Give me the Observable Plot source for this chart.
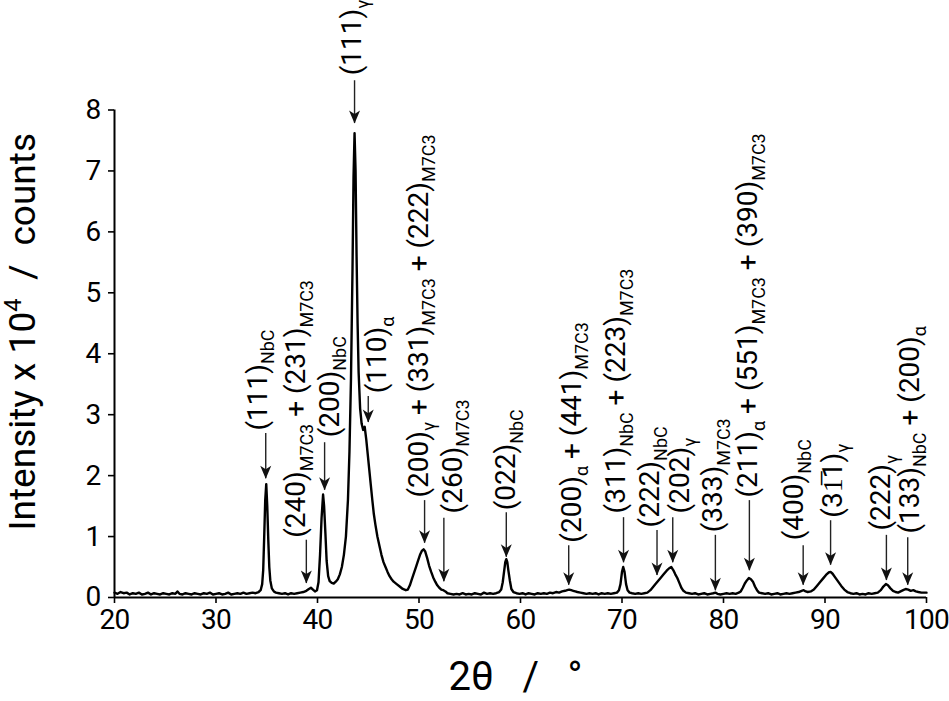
<!DOCTYPE html>
<html>
<head>
<meta charset="utf-8">
<script src="https://cdn.jsdelivr.net/npm/d3@7"></script>
<script src="https://cdn.jsdelivr.net/npm/@observablehq/plot@0.6"></script>
<style>
  html, body { margin: 0; padding: 0; background: white; }
  svg text { white-space: pre; }
  svg g[aria-label$="tick"] { stroke-width: 1.6px; }
  svg g[aria-label$="tick label"] { letter-spacing: -0.8px; }
</style>
</head>
<body>
<div id="chart"></div>
<script>
// ---- diffraction pattern (2θ in degrees, intensity in 10^4 counts) ----
const twoTheta = [
  20.0,20.3,20.6,20.9,21.2,21.5,21.8,22.1,22.4,22.7,23.0,23.3,23.6,23.9,24.2,24.5,24.8,25.1,25.4,25.7,
  26.0,26.2,26.4,26.7,27.0,27.3,27.6,27.9,28.2,28.5,28.8,29.1,29.4,29.7,30.0,30.3,30.6,30.9,31.2,31.5,
  31.8,32.1,32.4,32.7,33.0,33.3,33.6,33.9,34.2,
  34.4,34.55,34.65,34.75,34.85,34.95,35.05,35.15,35.25,35.35,35.5,35.7,35.9,
  36.2,36.5,36.8,37.1,37.4,37.7,38.0,38.3,38.6,38.9,39.15,39.35,39.55,39.75,39.95,
  40.1,40.25,40.4,40.55,40.65,40.78,40.9,41.05,41.2,41.4,41.6,41.8,42.0,42.2,42.4,42.6,42.8,
  43.0,43.15,43.3,43.45,43.55,43.65,43.75,43.85,43.95,44.05,44.2,44.35,44.5,44.65,44.8,44.95,
  45.1,45.25,45.4,45.55,45.7,45.9,46.1,46.3,46.5,46.7,46.9,47.1,47.3,47.5,47.8,48.1,48.4,48.7,48.9,
  49.1,49.3,49.5,49.7,49.9,50.1,50.3,50.45,50.6,50.8,51.0,51.2,51.4,51.6,51.8,52.0,52.2,52.4,52.6,52.8,
  53.1,53.4,53.7,54.0,54.3,54.6,54.9,55.2,55.5,55.8,56.1,56.4,56.7,57.0,57.3,57.6,57.9,
  58.1,58.25,58.4,58.5,58.6,58.7,58.8,58.95,59.1,59.3,59.6,59.9,
  60.2,60.5,60.8,61.1,61.4,61.7,62.0,62.3,62.6,62.9,63.2,63.5,63.8,64.1,64.4,64.6,64.8,65.0,65.2,65.4,
  65.6,65.9,66.2,66.5,66.8,67.1,67.4,67.7,68.0,68.3,68.6,68.9,69.2,69.5,
  69.7,69.85,70.0,70.12,70.25,70.4,70.55,70.75,71.0,71.3,71.6,71.9,72.2,72.5,72.8,
  73.1,73.3,73.55,73.8,74.1,74.4,74.65,74.85,75.05,75.25,75.45,75.65,75.85,76.05,76.3,76.6,76.9,
  77.2,77.5,77.8,78.1,78.4,78.7,79.0,79.2,79.4,79.7,80.0,80.3,80.6,80.9,81.2,81.5,81.7,81.9,
  82.1,82.3,82.5,82.7,82.9,83.1,83.3,83.5,83.8,84.1,84.4,84.7,85.0,85.3,85.6,85.9,86.2,86.5,86.8,
  87.1,87.4,87.7,87.9,88.1,88.3,88.6,88.9,89.2,89.5,89.8,90.1,90.35,90.55,90.75,91.0,91.3,91.6,91.9,
  92.2,92.5,92.8,93.1,93.4,93.7,94.0,94.3,94.6,94.9,95.2,95.5,95.75,96.0,96.2,96.45,96.7,96.95,
  97.2,97.45,97.7,97.95,98.2,98.45,98.7,98.95,99.2,99.5,99.8,100.0
];
const intensity = [
  0.08,0.06,0.09,0.07,0.08,0.05,0.07,0.06,0.08,0.05,0.06,0.08,0.05,0.07,0.06,0.05,0.07,0.06,0.05,0.07,
  0.06,0.10,0.06,0.05,0.07,0.06,0.05,0.07,0.06,0.05,0.07,0.06,0.08,0.05,0.06,0.07,0.05,0.06,0.08,0.05,
  0.06,0.07,0.06,0.08,0.06,0.07,0.08,0.07,0.09,
  0.12,0.22,0.45,1.00,1.60,1.86,1.50,0.95,0.50,0.28,0.15,0.10,0.08,
  0.07,0.06,0.07,0.05,0.07,0.06,0.07,0.08,0.09,0.11,0.14,0.16,0.13,0.10,0.12,
  0.25,0.70,1.30,1.69,1.50,1.05,0.60,0.35,0.27,0.24,0.23,0.26,0.30,0.38,0.50,0.70,1.00,
  1.60,2.40,3.60,5.40,6.90,7.62,7.00,5.60,4.50,3.70,3.10,2.85,2.75,2.80,2.60,2.35,
  2.10,1.85,1.60,1.37,1.20,1.00,0.85,0.70,0.58,0.50,0.42,0.35,0.30,0.26,0.22,0.18,0.14,0.12,0.13,
  0.20,0.30,0.40,0.50,0.60,0.70,0.77,0.79,0.76,0.65,0.52,0.42,0.33,0.26,0.20,0.16,0.13,0.12,0.10,0.07,
  0.06,0.05,0.06,0.05,0.07,0.05,0.06,0.05,0.07,0.06,0.05,0.08,0.06,0.07,0.06,0.07,0.09,
  0.13,0.25,0.45,0.58,0.63,0.58,0.45,0.28,0.14,0.09,0.07,0.06,
  0.07,0.05,0.07,0.06,0.05,0.07,0.06,0.07,0.06,0.08,0.07,0.09,0.08,0.10,0.11,0.12,0.13,0.12,0.11,0.10,
  0.09,0.08,0.07,0.06,0.07,0.06,0.07,0.05,0.07,0.06,0.07,0.06,0.07,0.08,
  0.12,0.22,0.42,0.50,0.42,0.22,0.12,0.08,0.07,0.06,0.07,0.06,0.07,0.08,0.12,
  0.18,0.22,0.27,0.32,0.38,0.44,0.48,0.50,0.45,0.38,0.32,0.24,0.16,0.11,0.08,0.07,0.06,
  0.07,0.05,0.06,0.07,0.05,0.06,0.07,0.08,0.06,0.05,0.06,0.07,0.06,0.07,0.06,0.08,0.10,0.16,
  0.23,0.28,0.32,0.30,0.26,0.18,0.12,0.08,0.07,0.06,0.07,0.05,0.06,0.07,0.05,0.06,0.07,0.06,0.07,
  0.08,0.09,0.11,0.12,0.10,0.09,0.10,0.13,0.19,0.25,0.31,0.37,0.41,0.42,0.39,0.33,0.26,0.19,0.13,
  0.09,0.07,0.06,0.07,0.05,0.06,0.05,0.07,0.06,0.07,0.08,0.12,0.18,0.22,0.20,0.15,0.11,0.09,
  0.08,0.10,0.12,0.14,0.13,0.11,0.12,0.10,0.09,0.08,0.08,0.08
];

// ---- peak annotations ----
const labels = [
  "(111)_{NbC}",
  "(240)_{M7C3} + (231)_{M7C3}",
  "(200)_{NbC}",
  "(111)_{γ}",
  "(110)_{α}",
  "(200)_{γ} + (331)_{M7C3} + (222)_{M7C3}",
  "(260)_{M7C3}",
  "(022)_{NbC}",
  "(200)_{α} + (441)_{M7C3}",
  "(311)_{NbC} + (223)_{M7C3}",
  "(222)_{NbC}",
  "(202)_{γ}",
  "(333)_{M7C3}",
  "(211)_{α} + (551)_{M7C3} + (390)_{M7C3}",
  "(400)_{NbC}",
  "(31\u03051)_{γ}",
  "(222)_{γ}",
  "(133)_{NbC} + (200)_{α}"
];
const peakPos   = [34.9, 38.9, 40.7, 43.65, 45.0, 50.55, 52.45, 58.6, 64.75, 70.15, 73.45, 75.0, 79.2, 82.55, 87.85, 90.55, 96.05, 98.15];
const labelPos  = [34.11, 37.91, 41.19, 43.45, 45.89, 49.96, 53.34, 58.6, 65.05, 69.46, 72.76, 75.69, 79.0, 82.45, 86.96, 90.75, 95.56, 98.35];
const labelAt   = [2.74, 0.98, 2.63, 8.57, 3.35, 1.64, 1.38, 1.43, 0.90, 1.38, 1.15, 1.38, 1.07, 1.64, 0.94, 1.31, 1.10, 1.05];
const arrowFrom = [2.69, 0.94, 2.54, 8.48, 3.30, 1.59, 1.30, 1.39, 0.85, 1.31, 1.10, 1.31, 1.02, 1.59, 0.85, 1.26, 1.02, 0.98];
const arrowTo   = [1.95, 0.23, 1.76, 7.78, 2.87, 0.89, 0.26, 0.66, 0.20, 0.57, 0.36, 0.57, 0.11, 0.44, 0.20, 0.53, 0.28, 0.20];

const xTicks = [20, 30, 40, 50, 60, 70, 80, 90, 100];
const yTicks = [0, 1, 2, 3, 4, 5, 6, 7, 8];
const xTitle = "2θ\u2002\u2009/\u2002\u2009°";
const yTitle = "Intensity x 10^{4}\u2002/\u2002counts";

// tables built from the arrays
const pattern = twoTheta.map((t, i) => ({t, v: intensity[i]}));
const notes = labels.map((s, i) => ({s, x: peakPos[i], xl: labelPos[i], yl: labelAt[i], y1: arrowFrom[i], y2: arrowTo[i]}));

// filled arrow head, tip at origin, pointing down
const arrowHead = {
  draw(context) {
    const w = 5.5, h = 13;
    context.moveTo(0, 0);
    context.lineTo(-w, -h);
    context.lineTo(0, -h * 0.72);
    context.lineTo(w, -h);
    context.closePath();
  }
};

const chart = Plot.plot({
  width: 949,
  height: 701,
  marginLeft: 114,
  marginRight: 23,
  marginTop: 109.5,
  marginBottom: 104,
  style: {fontFamily: "Roboto", fontSize: "28px", color: "black", background: "white"},
  x: {domain: [20, 100], ticks: xTicks, tickSize: 6, tickPadding: 6, tickFormat: d => String(d), label: null},
  y: {domain: [0, 8], ticks: yTicks, tickSize: 6, tickPadding: 8, tickFormat: d => String(d), label: null},
  marks: [
    Plot.line(pattern, {x: "t", y: "v", stroke: "black", strokeWidth: 2.4, strokeLinejoin: "round"}),
    Plot.ruleY([0], {stroke: "black", strokeWidth: 2}),
    Plot.ruleX([20], {stroke: "black", strokeWidth: 2}),
    Plot.ruleX(notes, {x: "x", y1: "y1", y2: "y2", stroke: "#222", strokeWidth: 1.4}),
    Plot.dot(notes, {x: "x", y: "y2", symbol: arrowHead, fill: "#111", stroke: "none"}),
    Plot.text(notes, {x: "xl", y: "yl", text: "s", rotate: -90, textAnchor: "start", fontSize: 28, fill: "black"}),
    Plot.text([yTitle], {frameAnchor: "left", text: d => d, rotate: -90, textAnchor: "middle", dx: -91, dy: -22, fontSize: 37, fill: "black"}),
    Plot.text([xTitle], {frameAnchor: "bottom", text: d => d, textAnchor: "middle", dx: -5, dy: 92, fontSize: 40, fill: "black"})
  ]
});

document.getElementById("chart").appendChild(chart);

// turn _{..} and ^{..} markup into real sub/superscript tspans
function richText(root) {
  const ns = "http://www.w3.org/2000/svg";
  root.querySelectorAll("text").forEach(t => {
    const s = t.textContent;
    if (!/[_^]\{/.test(s)) return;
    const fs = parseFloat(getComputedStyle(t).fontSize);
    const parts = [];
    const re = /([_^])\{([^}]*)\}/g;
    let last = 0, m;
    while ((m = re.exec(s))) {
      if (m.index > last) parts.push({t: s.slice(last, m.index), k: ""});
      parts.push({t: m[2], k: m[1]});
      last = re.lastIndex;
    }
    if (last < s.length) parts.push({t: s.slice(last), k: ""});
    t.textContent = "";
    let shift = 0;
    for (const p of parts) {
      const ts = document.createElementNS(ns, "tspan");
      const target = p.k === "_" ? 0.27 * fs : p.k === "^" ? -0.4 * fs : 0;
      if (target - shift !== 0) ts.setAttribute("dy", (target - shift).toFixed(2));
      shift = target;
      if (p.k) ts.setAttribute("font-size", (0.64 * fs).toFixed(2));
      ts.textContent = p.t;
      t.appendChild(ts);
    }
  });
}
richText(chart);
</script>
</body>
</html>
